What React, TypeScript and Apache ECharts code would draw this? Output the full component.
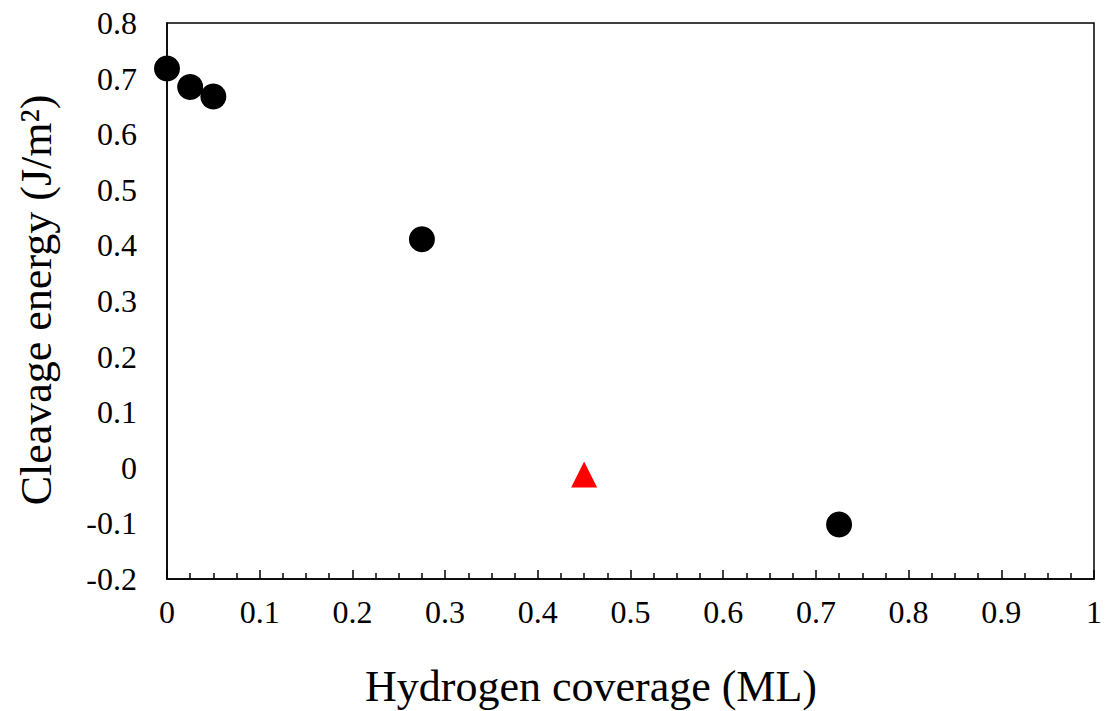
import React, { useEffect, useRef } from "react";
import * as echarts from "echarts";

const circleCoverage = [0, 0.025, 0.05, 0.275, 0.725];
const circleEnergy = [0.718, 0.685, 0.668, 0.411, -0.102];
const triangleCoverage = [0.45];
const triangleEnergy = [-0.012];
const xTickLabels = ["0", "0.1", "0.2", "0.3", "0.4", "0.5", "0.6", "0.7", "0.8", "0.9", "1"];
const yTickLabels = ["-0.2", "-0.1", "0", "0.1", "0.2", "0.3", "0.4", "0.5", "0.6", "0.7", "0.8"];

const FONT = "'Liberation Serif', 'Times New Roman', serif";

export default function App() {
  const ref = useRef<HTMLDivElement>(null);
  useEffect(() => {
    if (!ref.current) return;
    const chart = echarts.init(ref.current, undefined, { renderer: "svg" });
    const fmtX = (v: number) => {
      const i = Math.round(v * 10);
      return xTickLabels[i] ?? "";
    };
    const fmtY = (v: number) => {
      const i = Math.round((v + 0.2) * 10);
      return yTickLabels[i] ?? "";
    };
    chart.setOption({
      animation: false,
      backgroundColor: "#fff",
      grid: {
        left: 167,
        top: 23,
        right: 13,
        bottom: 132,
        show: true,
        borderColor: "#000",
        borderWidth: 1.5,
      },
      xAxis: {
        type: "value",
        min: 0,
        max: 1,
        interval: 0.1,
        axisLine: { show: true, onZero: false, lineStyle: { color: "#000", width: 1.5 } },
        axisTick: { show: true, inside: true, length: 9, lineStyle: { color: "#000", width: 1.5 } },
        minorTick: { show: true, splitNumber: 4, length: 6, lineStyle: { color: "#000", width: 1.5 } },
        splitLine: { show: false },
        axisLabel: { formatter: fmtX, color: "#000", fontFamily: FONT, fontSize: 32, margin: 17 },
      },
      yAxis: {
        type: "value",
        min: -0.2,
        max: 0.8,
        interval: 0.1,
        axisLine: { show: true, onZero: false, lineStyle: { color: "#000", width: 1.5 } },
        axisTick: { show: false },
        splitLine: { show: false },
        axisLabel: { formatter: fmtY, color: "#000", fontFamily: FONT, fontSize: 32, margin: 30 },
      },
      graphic: [
        {
          type: "text",
          x: 591,
          y: 686,
          style: {
            text: "Hydrogen coverage (ML)",
            fontFamily: FONT,
            fontSize: 44,
            fill: "#000",
            align: "center",
            verticalAlign: "middle",
          },
        },
        {
          type: "text",
          x: 36,
          y: 300,
          rotation: Math.PI / 2,
          style: {
            text: "Cleavage energy (J/m²)",
            fontFamily: FONT,
            fontSize: 44,
            fill: "#000",
            align: "center",
            verticalAlign: "middle",
          },
        },
      ],
      series: [
        {
          type: "scatter",
          data: circleCoverage.map((x, i) => [x, circleEnergy[i]]),
          symbol: "circle",
          symbolSize: 26,
          itemStyle: { color: "#000", opacity: 1 },
        },
        {
          type: "scatter",
          data: triangleCoverage.map((x, i) => [x, triangleEnergy[i]]),
          symbol: "triangle",
          symbolSize: 26,
          itemStyle: { color: "#ff0000", opacity: 1 },
        },
      ],
    });
    return () => chart.dispose();
  }, []);
  return (
    <div
      ref={ref}
      style={{ position: "fixed", left: 0, top: 0, width: 1107, height: 711, background: "#fff" }}
    />
  );
}
